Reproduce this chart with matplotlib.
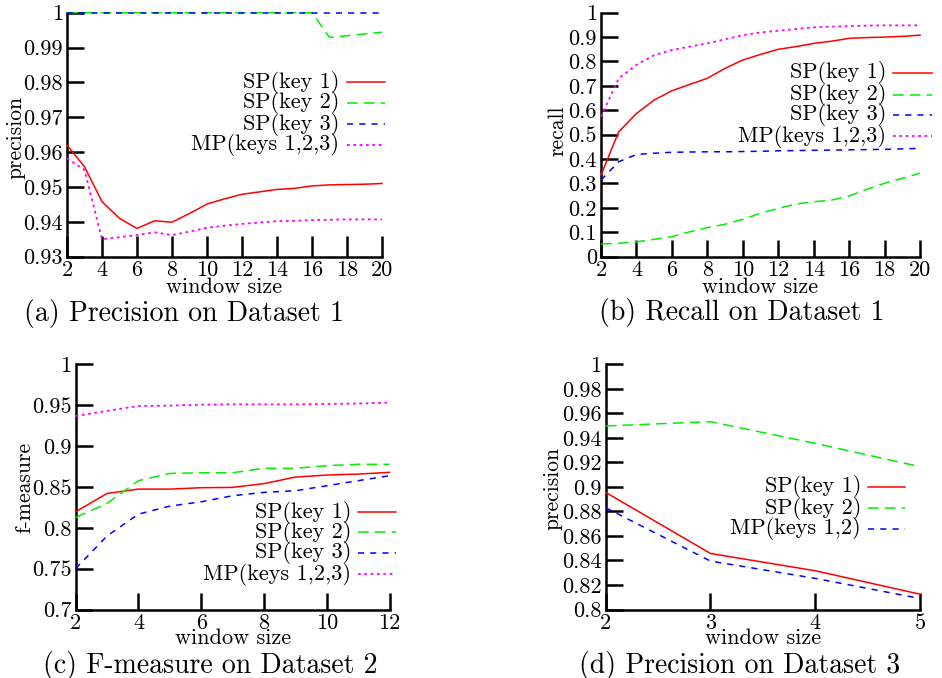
import matplotlib
matplotlib.use("Agg")
import matplotlib.pyplot as plt
from matplotlib.lines import Line2D

plt.rcParams['font.family'] = ['cmr10', 'DejaVu Serif']
plt.rcParams['axes.unicode_minus'] = False

# ---------------- data ----------------
# (a) Precision on Dataset 1
win_a = list(range(2, 21))
prec1_sp1 = [0.962, 0.9558, 0.9458, 0.941, 0.9381, 0.9403, 0.9399, 0.9424, 0.9451, 0.9466,
             0.9479, 0.9486, 0.9493, 0.9496, 0.9503, 0.9506, 0.9507, 0.9508, 0.951]
prec1_sp2 = [1.0, 1.0, 1.0, 1.0, 1.0, 1.0, 1.0, 1.0, 1.0, 1.0,
             1.0, 1.0, 1.0, 1.0, 1.0, 0.9929, 0.9934, 0.9939, 0.9944]
prec1_sp3 = [1.0] * 19
prec1_mp = [0.9582, 0.9549, 0.935, 0.9356, 0.9362, 0.937, 0.9362, 0.9372, 0.9383, 0.9389,
            0.9394, 0.9398, 0.9402, 0.9403, 0.9405, 0.9406, 0.9407, 0.9407, 0.9407]

# (b) Recall on Dataset 1
win_b = list(range(2, 21))
rec1_sp1 = [0.335, 0.512, 0.587, 0.642, 0.680, 0.706, 0.731, 0.772, 0.806, 0.829,
            0.850, 0.861, 0.874, 0.883, 0.895, 0.898, 0.900, 0.903, 0.908]
rec1_sp2 = [0.052, 0.055, 0.061, 0.071, 0.082, 0.102, 0.119, 0.133, 0.153, 0.178,
            0.198, 0.216, 0.225, 0.232, 0.249, 0.276, 0.301, 0.321, 0.342]
rec1_sp3 = [0.314, 0.389, 0.419, 0.424, 0.428, 0.429, 0.430, 0.430, 0.431, 0.432,
            0.434, 0.435, 0.436, 0.437, 0.438, 0.439, 0.440, 0.442, 0.444]
rec1_mp = [0.574, 0.731, 0.786, 0.826, 0.847, 0.861, 0.874, 0.891, 0.908, 0.919,
           0.926, 0.933, 0.940, 0.943, 0.945, 0.947, 0.948, 0.948, 0.948]

# (c) F-measure on Dataset 2
win_c = list(range(2, 13))
f2_sp1 = [0.8196, 0.842, 0.8473, 0.8473, 0.849, 0.8494, 0.854, 0.862, 0.8645, 0.8657, 0.8678]
f2_sp2 = [0.8127, 0.8298, 0.8576, 0.8665, 0.8673, 0.8673, 0.8727, 0.8727, 0.876, 0.8776, 0.8776]
f2_sp3 = [0.7502, 0.790, 0.8167, 0.8265, 0.8318, 0.8392, 0.8433, 0.8453, 0.8514, 0.8576, 0.8637]
f2_mp = [0.9367, 0.943, 0.949, 0.9494, 0.9506, 0.951, 0.951, 0.951, 0.9514, 0.952, 0.953]

# (d) Precision on Dataset 3
win_d = [2, 3, 4, 5]
prec3_sp1 = [0.8955, 0.8457, 0.8316, 0.8125]
prec3_sp2 = [0.9497, 0.9532, 0.9355, 0.9165]
prec3_mp = [0.883, 0.8395, 0.8254, 0.809]

labels_3 = ['SP(key 1)', 'SP(key 2)', 'SP(key 3)', 'MP(keys 1,2,3)']
labels_d = ['SP(key 1)', 'SP(key 2)', 'MP(keys 1,2)']

yticks_a = [0.93, 0.94, 0.95, 0.96, 0.97, 0.98, 0.99, 1]
ytl_a = ['0.93', '0.94', '0.95', '0.96', '0.97', '0.98', '0.99', '1']
yticks_b = [0, 0.1, 0.2, 0.3, 0.4, 0.5, 0.6, 0.7, 0.8, 0.9, 1]
ytl_b = ['0', '0.1', '0.2', '0.3', '0.4', '0.5', '0.6', '0.7', '0.8', '0.9', '1']
yticks_c = [0.7, 0.75, 0.8, 0.85, 0.9, 0.95, 1]
ytl_c = ['0.7', '0.75', '0.8', '0.85', '0.9', '0.95', '1']
yticks_d = [0.8, 0.82, 0.84, 0.86, 0.88, 0.9, 0.92, 0.94, 0.96, 0.98, 1]
ytl_d = ['0.8', '0.82', '0.84', '0.86', '0.88', '0.9', '0.92', '0.94', '0.96', '0.98', '1']
xticks_ab = [2, 4, 6, 8, 10, 12, 14, 16, 18, 20]
xticks_c = [2, 4, 6, 8, 10, 12]
xticks_d = [2, 3, 4, 5]

captions = ['(a) Precision on Dataset 1', '(b) Recall on Dataset 1',
            '(c) F-measure on Dataset 2', '(d) Precision on Dataset 3']

# ---------------- styles ----------------
STY = {
    'red': dict(color='#ff0000', linestyle='-', linewidth=1.1),
    'green': dict(color='#00ee00', linestyle=(0, (7, 4)), linewidth=1.1),
    'blue': dict(color='#0000ff', linestyle=(0, (4, 4)), linewidth=1.1),
    'magenta': dict(color='#ff00ff', linestyle=(0, (1.5, 2.0)), linewidth=1.3),
}

W, H = 942, 678
fig = plt.figure(figsize=(W / 100, H / 100), dpi=100)


def px_axes(l, t, r, b):
    return fig.add_axes([l / W, 1 - b / H, (r - l) / W, (b - t) / H])


def style_axes(ax, xlim, ylim, xt, yt, ytl, ylabel, ylab_px, xlab_y_px, ax_px, xtick_len=12):
    ax.set_xlim(*xlim)
    ax.set_ylim(*ylim)
    for s in ['top', 'right']:
        ax.spines[s].set_visible(False)
    for s in ['left', 'bottom']:
        ax.spines[s].set_linewidth(1.8)
        ax.spines[s].set_zorder(1)
    ax.set_xticks(xt)
    ax.set_xticklabels([str(v) for v in xt])
    ax.set_yticks(yt)
    ax.set_yticklabels(ytl)
    ax.tick_params(axis='both', direction='in', width=1.8, labelsize=16,
                   top=False, right=False)
    ax.tick_params(axis='y', length=12, pad=3)
    ax.tick_params(axis='x', length=xtick_len, pad=3)
    ax.patch.set_visible(False)
    l, t, r, b = ax_px
    ax.set_ylabel(ylabel, fontsize=15.5)
    ax.yaxis.set_label_coords((ylab_px[0] - l) / (r - l), (b - ylab_px[1]) / (b - t))
    ax.set_xlabel('window size', fontsize=16)
    ax.xaxis.set_label_coords(0.5, (b - xlab_y_px) / (b - t))
    ax.xaxis.label.set_va('center')
    ax.yaxis.label.set_va('center')


def legend_px(labels, styles, text_right, sample_x0, sample_x1, rows_y):
    for lab, st, yy in zip(labels, styles, rows_y):
        fig.text(text_right / W, 1 - yy / H, lab, ha='right', va='center', fontsize=16)
        fig.add_artist(Line2D([sample_x0 / W, sample_x1 / W], [1 - yy / H, 1 - yy / H],
                              transform=fig.transFigure, **STY[st]))


# (a)
pa = (67, 12.7, 382, 256.7)
ax = px_axes(*pa)
ax.plot(win_a, prec1_sp1, clip_on=False, **STY['red'])
ax.plot(win_a, prec1_sp2, clip_on=False, **STY['green'])
ax.plot(win_a, prec1_sp3, clip_on=False, **STY['blue'])
ax.plot(win_a, prec1_mp, clip_on=False, **STY['magenta'])
style_axes(ax, (2, 20), (0.93, 1.0), xticks_ab, yticks_a, ytl_a, 'precision',
           (16, 137), 287, pa, xtick_len=15)
legend_px(labels_3, ['red', 'green', 'blue', 'magenta'], 339, 347, 385, [82, 103, 124, 145])

# (b)
pb = (601, 12.7, 920, 256.7)
ax = px_axes(*pb)
ax.plot(win_b, rec1_sp1, clip_on=False, **STY['red'])
ax.plot(win_b, rec1_sp2, clip_on=False, **STY['green'])
ax.plot(win_b, rec1_sp3, clip_on=False, **STY['blue'])
ax.plot(win_b, rec1_mp, clip_on=False, **STY['magenta'])
style_axes(ax, (2, 20), (0, 1.0), xticks_ab, yticks_b, ytl_b, 'recall',
           (558, 131), 287, pb)
legend_px(labels_3, ['red', 'green', 'blue', 'magenta'], 886, 893, 932, [73, 95, 115, 136])

# (c)
pc = (75.7, 364.3, 389.5, 609.5)
ax = px_axes(*pc)
ax.plot(win_c, f2_sp1, clip_on=False, **STY['red'])
ax.plot(win_c, f2_sp2, clip_on=False, **STY['green'])
ax.plot(win_c, f2_sp3, clip_on=False, **STY['blue'])
ax.plot(win_c, f2_mp, clip_on=False, **STY['magenta'])
style_axes(ax, (2, 12), (0.7, 1.0), xticks_c, yticks_c, ytl_c, 'f-measure',
           (25, 487), 638, pc)
legend_px(labels_3, ['red', 'green', 'blue', 'magenta'], 351, 358, 396, [512, 532, 553, 574])

# (d)
pd_ = (605.7, 364.3, 920, 609.5)
ax = px_axes(*pd_)
ax.plot(win_d, prec3_sp1, clip_on=False, **STY['red'])
ax.plot(win_d, prec3_sp2, clip_on=False, **STY['green'])
ax.plot(win_d, prec3_mp, clip_on=False, **STY['blue'])
style_axes(ax, (2, 5), (0.8, 1.0), xticks_d, yticks_d, ytl_d, 'precision',
           (553, 488), 638, pd_)
legend_px(labels_d, ['red', 'green', 'blue'], 861, 868, 905, [487, 508, 529])

# captions
cap_pos = [(183.5, 314), (742, 312), (210, 665), (740, 665)]
for cap, (cx, cy) in zip(captions, cap_pos):
    fig.text(cx / W, 1 - cy / H, cap, ha='center', va='center', fontsize=20)

fig.savefig('out.png', dpi=100)
